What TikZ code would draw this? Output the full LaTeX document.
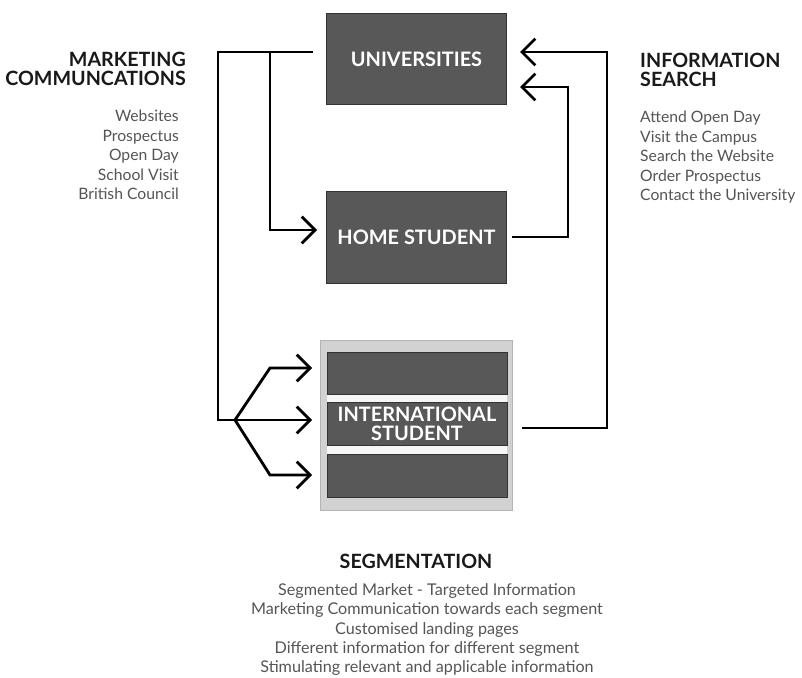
\documentclass[tikz,border=0pt]{standalone}
\usepackage{fontspec}
\setmainfont{Lato}
\usetikzlibrary{arrows.meta, positioning, calc}
\definecolor{boxfill}{HTML}{585858}
\definecolor{boxline}{HTML}{333333}
\definecolor{framefill}{HTML}{D2D2D2}
\definecolor{framegray}{HTML}{B4B4B4}
\definecolor{itemgray}{HTML}{555555}

\begin{document}
\begin{tikzpicture}[x=0.03cm, y=-0.03cm,
    >={Straight Barb[length=4mm, width=8mm]},
    flow/.style={line width=2.4pt},
    stage/.style={draw=boxline, fill=boxfill, line width=0.8pt, text=white,
        minimum width=5.4cm, minimum height=2.74cm, inner sep=0pt,
        font=\bfseries\fontsize{17}{16}\selectfont},
    segbox/.style={stage, minimum height=1.27cm},
    heading/.style={inner sep=0pt, text=black!90, font=\bfseries\fontsize{16.8}{16.2}\selectfont},
    items/.style={inner sep=0pt, text=itemgray, font=\fontsize{13.4}{16.6}\selectfont}]
    \fill[white] (0,0) rectangle (802,678);
    \useasboundingbox (0,0) rectangle (802,678);

    \node[stage] (uni) at (416.5,59) {UNIVERSITIES};
    \node[stage] (home) at (416.5,237.5) {HOME STUDENT};
    \node[draw=framegray, fill=framefill, line width=0.8pt, minimum width=5.76cm, minimum height=5.1cm] (intl) at (416,425) {};
    \node[segbox] (segTop) at (417,373.5) {};
    \node[segbox, align=center] (segMid) at (417,424) {INTERNATIONAL\\STUDENT};
    \node[segbox] (segBot) at (417,476) {};
    \fill[white!93!gray] (segTop.south west) rectangle (segMid.north east);
    \fill[white!93!gray] (segMid.south west) rectangle (segBot.north east);

    \node[heading, anchor=north east, align=right] (mcHead) at (186,52) {MARKETING\\COMMUNCATIONS};
    \node[items, anchor=north east, align=right] (mcList) at (179,110) {Websites\\Prospectus\\Open Day\\School Visit\\British Council};
    \node[heading, anchor=north west, align=left] (isHead) at (640,53) {INFORMATION\\SEARCH};
    \node[items, anchor=north west, align=left] (isList) at (640,111) {Attend Open Day\\Visit the Campus\\Search the Website\\Order Prospectus\\Contact the University};
    \node[heading, anchor=north] (segHead) at (416,554) {SEGMENTATION};
    \node[items, anchor=north, align=center, font=\fontsize{13.8}{16.6}\selectfont] (segList) at (427,583) {Segmented Market - Targeted Information\\Marketing Communication towards each segment\\Customised landing pages\\Different information for different segment\\Stimulating relevant and applicable information};

    \coordinate (uniOut) at (313,52);
    \coordinate (branch) at (270,52);
    \coordinate (fork) at (235,420);
    \coordinate (homeIn) at (317,230);
    \coordinate (homeOut) at (512,237);
    \coordinate (intlOut) at (522,428);
    \coordinate (uniIn) at (520,52);
    \coordinate (uniIn2) at (520,87);

    \draw[flow] (uniOut) -- (218,52) -- (218,420) -- (fork);
    \draw[flow, ->] (branch) |- (homeIn);
    \draw[flow, ->] (fork) -- (270,368) -- (312,368);
    \draw[flow, ->] (fork) -- (312,420);
    \draw[flow, ->] (fork) -- (270,475) -- (312,475);
    \draw[flow, ->] (homeOut) -- (568,237) |- (uniIn2);
    \draw[flow, ->] (intlOut) -- (607,428) |- (uniIn);
\end{tikzpicture}
\end{document}
